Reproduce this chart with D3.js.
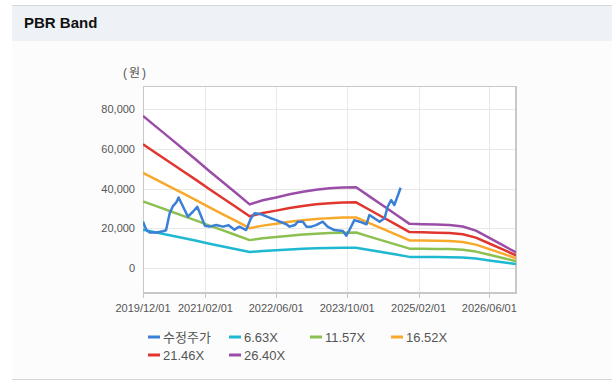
<!DOCTYPE html>
<html>
<head>
<meta charset="utf-8">
<title>PBR Band</title>
<script src="https://cdn.jsdelivr.net/npm/d3@7"></script>
<style>
  body { margin: 0; background: #fff; }
  text { font-family: "Liberation Sans", Arial, "Noto Sans CJK KR", sans-serif; }
</style>
</head>
<body>
<svg id="chart" width="616" height="385"></svg>
<script>
// band dates (quarterly) and band values per multiple
var bandDates = ['2019-12-01','2020-03-01','2020-06-01','2020-09-01','2020-12-01','2021-03-01','2021-06-01','2021-09-01',
  '2021-12-01','2022-03-01','2022-06-01','2022-09-01','2022-12-01','2023-03-01','2023-06-01','2023-09-01','2023-12-01',
  '2024-03-01','2024-06-01','2024-09-01','2024-12-01','2025-03-01','2025-06-01','2025-09-01','2025-12-01','2026-03-01',
  '2026-06-01','2026-09-01','2026-12-01'];
var band663 = [19230,17830,16440,15050,13660,12230,10840,9450,8040,8550,8920,9320,9650,9900,10070,10180,10210,
  9050,7890,6730,5580,5540,5490,5440,5240,4720,3810,2880,1960];
var band1157 = [33550,31120,28690,26260,23830,21350,18920,16490,14020,14930,15560,16260,16830,17270,17570,17760,17820,
  15790,13770,11740,9730,9660,9580,9490,9140,8240,6640,5030,3410];
var band1652 = [47910,44440,40970,37500,34030,30480,27010,23540,20020,21310,22220,23210,24040,24660,25090,25360,25440,
  22550,19660,16770,13890,13790,13680,13550,13050,11760,9480,7190,4870];
var band2146 = [62230,57730,53220,48710,44210,39590,35090,30580,26010,27680,28860,30150,31220,32040,32600,32940,33050,
  29290,25540,21780,18050,17920,17770,17600,16950,15280,12320,9340,6330];
var band2640 = [76560,71020,65470,59930,54380,48710,43160,37620,32000,34060,35510,37090,38410,39420,40100,40520,40660,
  36040,31420,26800,22200,22040,21860,21650,20860,18800,15150,11480,7790];

// adjusted price
var priceDates = ['2019-12-01','2019-12-24','2020-01-16','2020-03-01','2020-04-16','2020-05-07','2020-06-01','2020-06-22',
  '2020-07-16','2020-08-01','2020-09-01','2020-10-04','2020-11-07','2020-12-07','2021-01-04','2021-01-28','2021-03-01',
  '2021-04-16','2021-06-01','2021-07-10','2021-08-19','2021-09-22','2021-11-07','2021-12-10','2022-01-04','2022-02-19',
  '2022-04-16','2022-06-01','2022-08-10','2022-09-01','2022-10-07','2022-10-28','2022-12-01','2022-12-25','2023-01-28',
  '2023-03-01','2023-04-16','2023-05-19','2023-07-04','2023-09-01','2023-09-25','2023-10-16','2023-11-19','2023-12-25',
  '2024-02-10','2024-03-01','2024-04-04','2024-05-10','2024-06-13','2024-07-04','2024-07-28','2024-08-19','2024-09-13',
  '2024-10-01'];
var priceValues = [23300,19100,17800,17900,18500,19000,27500,31000,33000,35500,30800,25800,28300,30800,25800,21300,20800,
  21600,20800,21500,19300,20800,19100,25000,27500,27000,25300,24100,22000,20800,21600,23300,23300,20800,20800,21600,
  23300,20800,19100,18600,16200,19100,24100,23300,22000,26700,25000,23300,25000,30800,34200,31700,36700,40400];

var xTicks = ['2019-12-01','2021-02-01','2022-06-01','2023-10-01','2025-02-01','2026-06-01'];
var yTicks = [0, 20000, 40000, 60000, 80000];

var seriesNames = ['수정주가', '6.63X', '11.57X', '16.52X', '21.46X', '26.40X'];
var colors = ['#3b7fd6', '#1eb9d0', '#8cc152', '#f8a92c', '#e0362f', '#9a4ea8'];

var parse = d3.timeParse('%Y-%m-%d');
var plotL = 143, plotR = 516, plotT = 86, plotB = 293;

var svg = d3.select('#chart');

// card
svg.append('rect').attr('x', 12).attr('y', 5).attr('width', 600).attr('height', 374).attr('fill', '#fcfcfc');
svg.append('rect').attr('x', 12).attr('y', 5).attr('width', 600).attr('height', 36).attr('fill', '#eef2f7');
svg.append('line').attr('x1', 12).attr('x2', 612).attr('y1', 5.5).attr('y2', 5.5).attr('stroke', '#d4d6d9');
svg.append('line').attr('x1', 12).attr('x2', 612).attr('y1', 379.5).attr('y2', 379.5).attr('stroke', '#d4d6d9');
svg.append('text').attr('x', 24).attr('y', 28).attr('font-size', 15).attr('font-weight', 'bold')
  .attr('fill', '#111').text('PBR Band');

var x = d3.scaleTime()
  .domain([parse('2019-12-01'), parse('2026-12-01')])
  .range([plotL, plotR]);
var y = d3.scaleLinear()
  .domain([-12600, 91600])
  .range([plotB, plotT]);

// plot background + grid
svg.append('rect').attr('x', plotL).attr('y', plotT).attr('width', plotR - plotL).attr('height', plotB - plotT)
  .attr('fill', '#fff');

svg.append('g')
  .selectAll('line')
  .data(yTicks)
  .enter().append('line')
  .attr('x1', plotL).attr('x2', plotR)
  .attr('y1', d => Math.round(y(d)) + 0.5).attr('y2', d => Math.round(y(d)) + 0.5)
  .attr('stroke', '#e8e8e8');

svg.append('g')
  .selectAll('line')
  .data(xTicks)
  .enter().append('line')
  .attr('x1', d => Math.round(x(parse(d))) + 0.5).attr('x2', d => Math.round(x(parse(d))) + 0.5)
  .attr('y1', plotT).attr('y2', plotB)
  .attr('stroke', '#e8e8e8');

// tick marks below the plot
svg.append('g')
  .selectAll('line')
  .data(xTicks)
  .enter().append('line')
  .attr('x1', d => Math.round(x(parse(d))) + 0.5).attr('x2', d => Math.round(x(parse(d))) + 0.5)
  .attr('y1', plotB).attr('y2', plotB + 5)
  .attr('stroke', '#c4c4c4');

svg.append('rect').attr('x', plotL + 0.5).attr('y', plotT + 0.5).attr('width', plotR - plotL - 1)
  .attr('height', plotB - plotT - 1).attr('fill', 'none').attr('stroke', '#c8c8c8');
svg.append('line').attr('x1', plotR).attr('x2', plotR).attr('y1', plotT).attr('y2', plotB + 1)
  .attr('stroke', '#c8c8c8').attr('stroke-width', 2);
svg.append('line').attr('x1', plotL).attr('x2', plotR + 1).attr('y1', plotB).attr('y2', plotB)
  .attr('stroke', '#c8c8c8').attr('stroke-width', 2);

// axis labels
svg.append('g')
  .selectAll('text')
  .data(xTicks)
  .enter().append('text')
  .attr('x', d => x(parse(d)))
  .attr('y', 312)
  .attr('text-anchor', 'middle')
  .attr('font-size', 11)
  .attr('fill', '#555')
  .text(d => d.replace(/-/g, '/'));

svg.append('g')
  .selectAll('text')
  .data(yTicks)
  .enter().append('text')
  .attr('x', 135)
  .attr('y', d => y(d) + 4)
  .attr('text-anchor', 'end')
  .attr('font-size', 11)
  .attr('fill', '#555')
  .text(d => d3.format(',')(d));

svg.append('text').attr('x', 123).attr('y', 77).attr('font-size', 12).attr('fill', '#555')
  .attr('letter-spacing', 2).text('(원)');

// lines
svg.append('clipPath').attr('id', 'clip')
  .append('rect').attr('x', plotL).attr('y', plotT).attr('width', plotR - plotL).attr('height', plotB - plotT);

var line = d3.line()
  .x(d => x(d[0]))
  .y(d => y(d[1]));

var bands = [band663, band1157, band1652, band2146, band2640];
var g = svg.append('g').attr('clip-path', 'url(#clip)');

bands.forEach((vals, i) => {
  g.append('path')
    .datum(bandDates.map((d, j) => [parse(d), vals[j]]))
    .attr('d', line)
    .attr('fill', 'none')
    .attr('stroke', colors[i + 1])
    .attr('stroke-width', 2.5)
    .attr('stroke-linejoin', 'round');
});

g.append('path')
  .datum(priceDates.map((d, j) => [parse(d), priceValues[j]]))
  .attr('d', line)
  .attr('fill', 'none')
  .attr('stroke', colors[0])
  .attr('stroke-width', 2.5)
  .attr('stroke-linejoin', 'round');

// legend
var legend = svg.append('g')
  .selectAll('g')
  .data(seriesNames)
  .enter().append('g')
  .attr('transform', (d, i) => 'translate(' + (148 + (i % 4) * 81) + ',' + (337 + Math.floor(i / 4) * 18) + ')');

legend.append('line')
  .attr('x1', 0).attr('x2', 12)
  .attr('stroke', (d, i) => colors[i])
  .attr('stroke-width', 3);

legend.append('text')
  .attr('x', 15)
  .attr('y', 5)
  .attr('font-size', 13)
  .attr('fill', '#555')
  .text(d => d);
</script>
</body>
</html>
